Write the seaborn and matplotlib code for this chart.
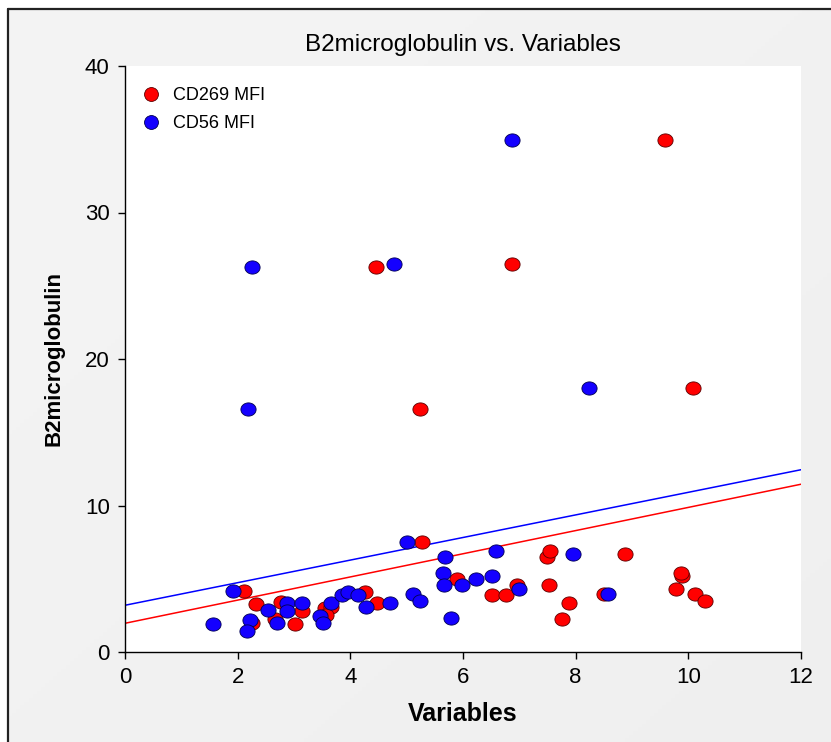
import numpy as np
import matplotlib
matplotlib.use('Agg')
import matplotlib.pyplot as plt
import seaborn as sns
from matplotlib.lines import Line2D

# values
cd269_x = [2.12, 2.33, 2.25, 2.77, 2.66, 3.02, 3.14, 3.55, 3.66, 3.57, 4.26, 4.47,
           5.28, 5.89, 6.51, 6.76, 6.96, 7.49, 7.54, 7.53, 7.89, 7.76, 8.87, 8.51,
           9.78, 9.89, 9.87, 10.11, 10.29, 9.59, 4.46, 6.87, 5.24, 10.08]
cd269_y = [4.18, 3.28, 1.96, 3.39, 2.25, 1.89, 2.78, 2.98, 3.09, 2.53, 4.10, 3.37,
           7.49, 4.96, 3.87, 3.87, 4.57, 6.51, 6.87, 4.57, 3.37, 2.27, 6.67, 3.98,
           4.28, 5.19, 5.37, 3.98, 3.48, 34.95, 26.28, 26.49, 16.59, 18.02]

cd56_x = [1.57, 1.92, 2.22, 2.16, 2.53, 2.69, 2.88, 2.87, 3.15, 3.46, 3.52, 3.65,
          3.85, 3.96, 4.13, 4.27, 4.70, 5.01, 5.12, 5.24, 5.68, 5.65, 5.67, 5.79,
          5.99, 6.23, 6.51, 6.59, 6.99, 7.95, 8.57, 6.87, 2.25, 4.78, 2.18, 8.24]
cd56_y = [1.89, 4.18, 2.18, 1.45, 2.87, 1.98, 3.32, 2.78, 3.37, 2.48, 1.96, 3.37,
          3.87, 4.10, 3.87, 3.05, 3.37, 7.49, 3.99, 3.48, 6.48, 5.41, 4.57, 2.29,
          4.57, 4.96, 5.19, 6.87, 4.28, 6.69, 3.98, 34.95, 26.28, 26.49, 16.59, 18.02]

# fitted lines as shown in the chart (intercept, slope)
fit_intercept = [1.96, 3.19]
fit_slope = [0.791, 0.771]

series_names = ['CD269 MFI', 'CD56 MFI']
series_colors = ['#ff0000', '#1400ff']
edge_colors = ['#5a0000', '#000050']
line_colors = ['red', 'blue']
x_ticks = [0, 2, 4, 6, 8, 10, 12]
y_ticks = [0, 10, 20, 30, 40]

sns.set_style('white')
plt.rcParams['font.family'] = ['Liberation Sans', 'DejaVu Sans']
plt.rcParams['text.color'] = 'black'
plt.rcParams['axes.labelcolor'] = 'black'
plt.rcParams['xtick.color'] = 'black'
plt.rcParams['ytick.color'] = 'black'

fig = plt.figure(figsize=(8.31, 7.42), dpi=100)
fig.patch.set_facecolor('white')

# grey gradient panel behind everything
bg = fig.add_axes([8 / 831, 0, 1 - 8 / 831, 1 - 9 / 742], zorder=-5)
gx, gy = np.meshgrid(np.linspace(0, 1, 200), np.linspace(0, 1, 200))
grad = 0.955 - 0.02 * (gx * 0.5 + gy * 0.5)
bg.imshow(grad, cmap='gray', vmin=0, vmax=1, aspect='auto', extent=[0, 1, 0, 1])
bg.set_axis_off()

# dark frame on top and left
fig.add_artist(Line2D([8 / 831, 8 / 831], [0, 1 - 9 / 742], transform=fig.transFigure,
                      color='#222222', lw=1.6))
fig.add_artist(Line2D([8 / 831, 1], [1 - 9 / 742, 1 - 9 / 742], transform=fig.transFigure,
                      color='#222222', lw=1.6))

ax = fig.add_axes([125 / 831, 1 - 652 / 742, 676 / 831, 586 / 742])
ax.set_facecolor('white')
ax.set_xlim(0, 12)
ax.set_ylim(0, 40)

t = np.linspace(0, 2 * np.pi, 60)
ellipse = np.column_stack([1.15 * np.cos(t), np.sin(t)])

# fit lines across the whole x range
line_x = np.array([x_ticks[0], x_ticks[-1]])
for b0, b1, c in zip(fit_intercept, fit_slope, line_colors):
    sns.lineplot(x=line_x, y=b0 + b1 * line_x, ax=ax, color=c, lw=1.1, zorder=2)

sns.scatterplot(x=cd269_x, y=cd269_y, ax=ax, marker=ellipse, s=120, color=series_colors[0],
                edgecolor=edge_colors[0], linewidth=0.6, zorder=3)
sns.scatterplot(x=cd56_x, y=cd56_y, ax=ax, marker=ellipse, s=120, color=series_colors[1],
                edgecolor=edge_colors[1], linewidth=0.6, zorder=3)

ax.set_xlim(0, 12)
ax.set_ylim(0, 40)
ax.set_xticks(x_ticks)
ax.set_yticks(y_ticks)
ax.tick_params(direction='out', length=5, width=1, color='black', labelcolor='black',
               labelsize=16, pad=6, bottom=True, left=True)
for side in ['top', 'right']:
    ax.spines[side].set_visible(False)
for side in ['left', 'bottom']:
    ax.spines[side].set_color('black')
    ax.spines[side].set_linewidth(1)

ax.set_title('B2microglobulin vs. Variables', fontsize=17.5, pad=11, color='black')
ax.set_xlabel('Variables', fontsize=18, fontweight='bold', labelpad=10)
ax.set_ylabel('B2microglobulin', fontsize=16, fontweight='bold', labelpad=15)

handles = [Line2D([], [], ls='none', marker='o', ms=10, mfc=series_colors[i],
                  mec=edge_colors[i], mew=0.6) for i in range(2)]
ax.legend(handles, series_names, loc='upper left', bbox_to_anchor=(0.0118, 0.9764),
          borderaxespad=0, frameon=False, fontsize=13,
          handletextpad=0.6, labelspacing=0.6, handlelength=1.2)

fig.savefig('out.png', dpi=100, facecolor=fig.get_facecolor())
